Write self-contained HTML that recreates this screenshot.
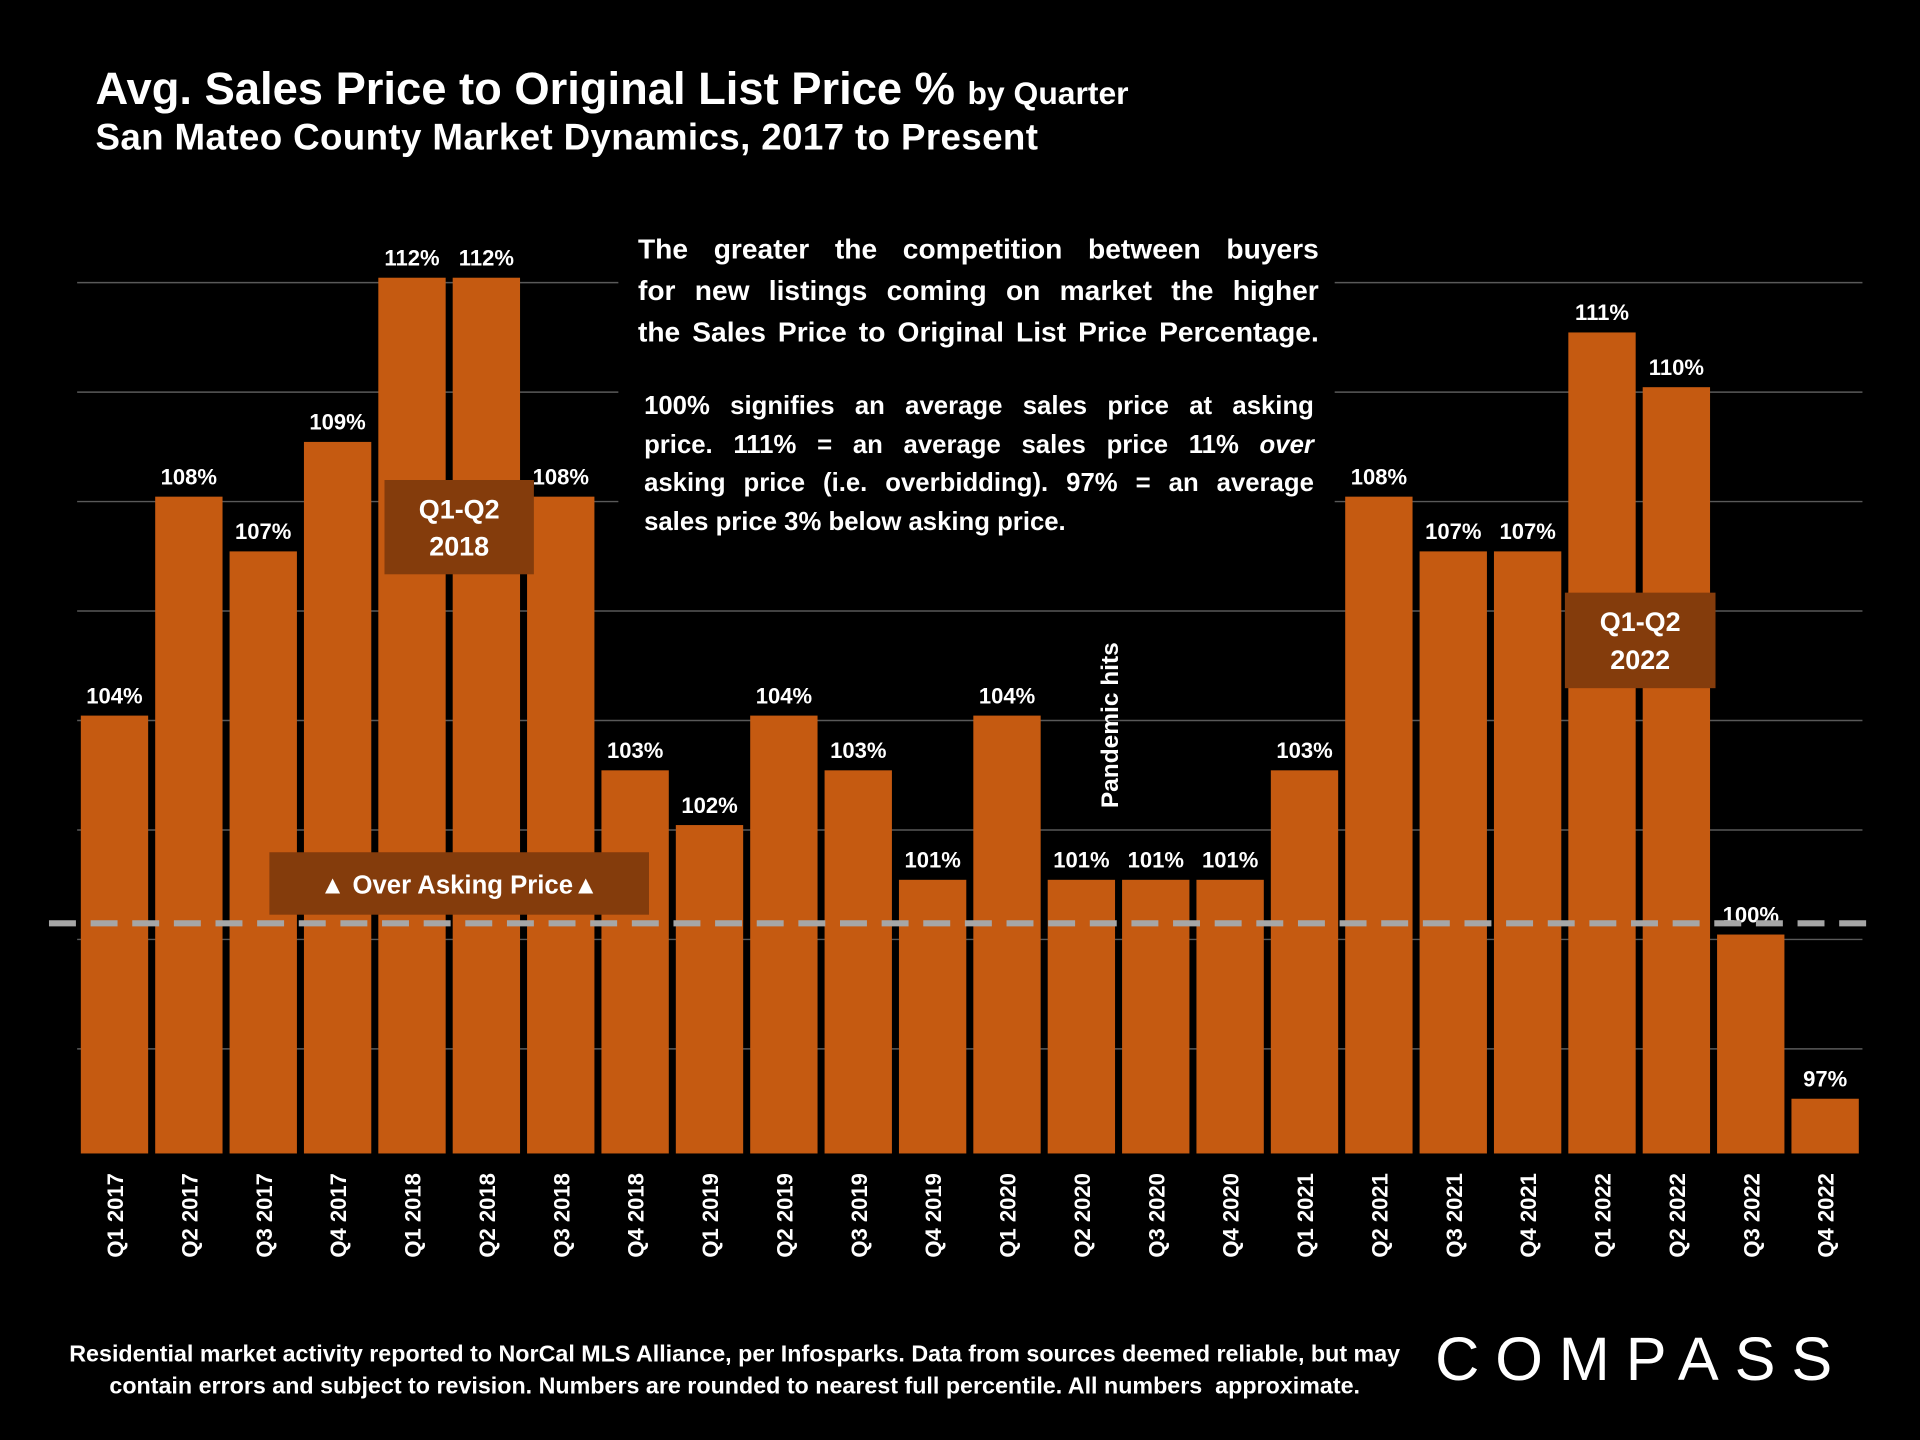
<!DOCTYPE html>
<html><head><meta charset="utf-8"><style>
html,body{margin:0;padding:0;background:#000;width:1920px;height:1440px;overflow:hidden}
#wrap{position:absolute;left:0;top:0;width:1568px;height:1176px;transform:scale(1.22449);transform-origin:0 0;font-family:"Liberation Sans",sans-serif;color:#fff;font-weight:bold}
.abs{position:absolute}
.ln{text-align:justify;text-align-last:justify;white-space:nowrap}
</style></head><body>
<div id="wrap">
<svg id="chart" width="1568" height="1176" viewBox="0 0 1568 1176" style="position:absolute;left:0;top:0"></svg>
<div class="abs" style="left:78px;top:52px;font-size:37px;white-space:nowrap">Avg. Sales Price to Original List Price % <span style="font-size:26px">by Quarter</span></div>
<div class="abs" style="left:78px;top:96px;font-size:30px;white-space:nowrap;letter-spacing:0.3px">San Mateo County Market Dynamics, 2017 to Present</div>
<div class="abs" style="left:505px;top:180px;width:585px;height:270px;background:#000"></div>
<div class="abs" style="left:521px;top:186px;width:556px;font-size:23px;line-height:34px">
<div class="ln">The greater the competition between buyers</div>
<div class="ln">for new listings coming on market the higher</div>
<div class="ln">the Sales Price to Original List Price Percentage.</div>
</div>
<div class="abs" style="left:526px;top:316px;width:547px;font-size:21px;line-height:31.7px">
<div class="ln">100% signifies an average sales price at asking</div>
<div class="ln">price. 111% = an average sales price 11% <i>over</i></div>
<div class="ln">asking price (i.e. overbidding). 97% = an average</div>
<div style="white-space:nowrap">sales price 3% below asking price.</div>
</div>
<div class="abs" style="left:30px;top:1094px;width:1140px;text-align:center;font-size:19px;line-height:26px;white-space:nowrap">Residential market activity reported to NorCal MLS Alliance, per Infosparks. Data from sources deemed reliable, but may<br>contain errors and subject to revision. Numbers are rounded to nearest full percentile. All numbers&nbsp; approximate.</div>
<div class="abs" style="left:1172px;top:1081px;font-size:50px;font-weight:normal;letter-spacing:13px;white-space:nowrap">COMPASS</div>
</div>
<script>
const categories=["Q1 2017","Q2 2017","Q3 2017","Q4 2017","Q1 2018","Q2 2018","Q3 2018","Q4 2018","Q1 2019","Q2 2019","Q3 2019","Q4 2019","Q1 2020","Q2 2020","Q3 2020","Q4 2020","Q1 2021","Q2 2021","Q3 2021","Q4 2021","Q1 2022","Q2 2022","Q3 2022","Q4 2022"];
const values=[104,108,107,109,112,112,108,103,102,104,103,101,104,101,101,101,103,108,107,107,111,110,100,97];
const gridTicks=[98,100,102,104,106,108,110,112];
const NS="http://www.w3.org/2000/svg";
const svg=document.getElementById('chart');
const y=v=>942-(v-96)*44.7;
const x=i=>66+i*60.74;
const bw=55;
function mk(t,a){const e=document.createElementNS(NS,t);for(const k in a)e.setAttribute(k,a[k]);svg.appendChild(e);return e;}
gridTicks.forEach(t=>{const l=mk('line',{x1:63,x2:1521,y1:y(t)+4,y2:y(t)+4,stroke:'#595959','stroke-width':1.2});

});
values.forEach((v,i)=>{
const r=mk('rect',{x:x(i),y:y(v),width:bw,height:942-y(v),fill:'#C55A11'});


const t=mk('text',{x:x(i)+bw/2,y:y(v)-10,'text-anchor':'middle',fill:'#fff','font-size':18,'font-weight':'bold','font-family':'Liberation Sans, sans-serif'});
t.textContent=v+'%';


const c=x(i)+bw/2+7;
const lx=mk('text',{x:0,y:0,transform:`translate(${c},958) rotate(-90)`,'text-anchor':'end',fill:'#fff','font-size':18,'font-weight':'bold','font-family':'Liberation Sans, sans-serif'});
lx.textContent=categories[i];


});
const d=mk('line',{x1:40,x2:1530,y1:754,y2:754,stroke:'#A6A6A6','stroke-width':5,'stroke-dasharray':'22 12'});


function box(x0,y0,w,h,lines,name,fs){const r=mk('rect',{x:x0,y:y0,width:w,height:h,fill:'#843C0C'});


lines.forEach((s,k)=>{const t=mk('text',{x:x0+w/2,y:y0+(h/(lines.length))*(k+0.5)+8+(lines.length>1?(k==0?4:-4):0),'text-anchor':'middle',fill:'#fff','font-size':fs,'font-weight':'bold','font-family':'Liberation Sans, sans-serif'});t.textContent=s;

});}
box(314,392,122,77,['Q1-Q2','2018'],'annotation-2018',22);
box(1278,484,123,78,['Q1-Q2','2022'],'annotation-2022',22);
box(220,696,310,51,['▲ Over Asking Price▲'],'over-asking-label',21);
const p=mk('text',{x:0,y:0,transform:'translate(913,660) rotate(-90)',fill:'#fff','font-size':20,'font-weight':'bold','font-family':'Liberation Sans, sans-serif'});
p.textContent='Pandemic hits';


</script>
</body></html>
